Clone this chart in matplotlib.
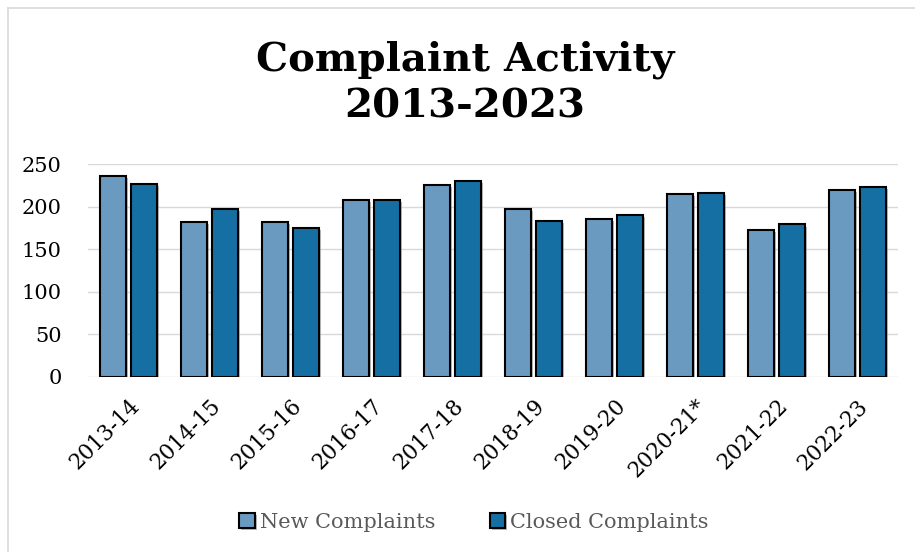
import matplotlib.pyplot as plt
import matplotlib.patheffects as pe
import numpy as np

years = ["2013-14", "2014-15", "2015-16", "2016-17", "2017-18",
         "2018-19", "2019-20", "2020-21*", "2021-22", "2022-23"]
new_complaints = [236, 182, 182, 208, 225, 197, 186, 215, 173, 219]
closed_complaints = [227, 197, 175, 208, 230, 183, 190, 216, 179, 223]

plt.rcParams['font.family'] = ['DejaVu Serif']

fig = plt.figure(figsize=(9.15, 5.52), dpi=100)
ax = fig.add_axes([88/915, 1-377/552, (898-88)/915, (377-164)/552])

x = np.arange(len(years))
w = 0.32
shadow = [pe.SimplePatchShadow(offset=(1.5, -1.5), shadow_rgbFace='#888888', alpha=0.6), pe.Normal()]
b1 = ax.bar(x - 0.19, new_complaints, w, color='#6B9AC0', edgecolor='black',
            linewidth=1.5, label='New Complaints', zorder=3)
b2 = ax.bar(x + 0.19, closed_complaints, w, color='#156FA2', edgecolor='black',
            linewidth=1.5, label='Closed Complaints', zorder=3)
for b in list(b1) + list(b2):
    b.set_path_effects(shadow)

ax.set_xlim(-0.5, len(years) - 0.5)
ax.set_ylim(0, 250)
ax.set_yticks(range(0, 251, 50))
ax.grid(axis='y', color='#d9d9d9', linewidth=1, zorder=0)
for s in ax.spines.values():
    s.set_visible(False)
ax.tick_params(length=0, labelsize=15)
ax.tick_params(axis='y', pad=19)
ax.tick_params(axis='x', pad=13)
ax.set_xticks(x)
ax.set_xticklabels(years, rotation=45, ha='right', rotation_mode='anchor', fontsize=15.5)

fig.text(0.508, 1-83/552, "Complaint Activity\n2013-2023", ha='center', va='center',
         fontsize=29, fontweight='bold', linespacing=1.3)

leg = fig.legend(loc='center', bbox_to_anchor=(474/915, 1-522/552), ncol=2,
                 frameon=False, fontsize=15, handlelength=0.75, handleheight=0.75,
                 handletextpad=0.25, columnspacing=2.6)
for t in leg.get_texts():
    t.set_color('#595959')

# outer chart border
fig.add_artist(plt.Line2D([8/915, 8/915], [0, 1-8/552], color='#d9d9d9', lw=1.2))
fig.add_artist(plt.Line2D([8/915, 1], [1-8/552, 1-8/552], color='#d9d9d9', lw=1.2))

fig.savefig("out.png", dpi=100)
